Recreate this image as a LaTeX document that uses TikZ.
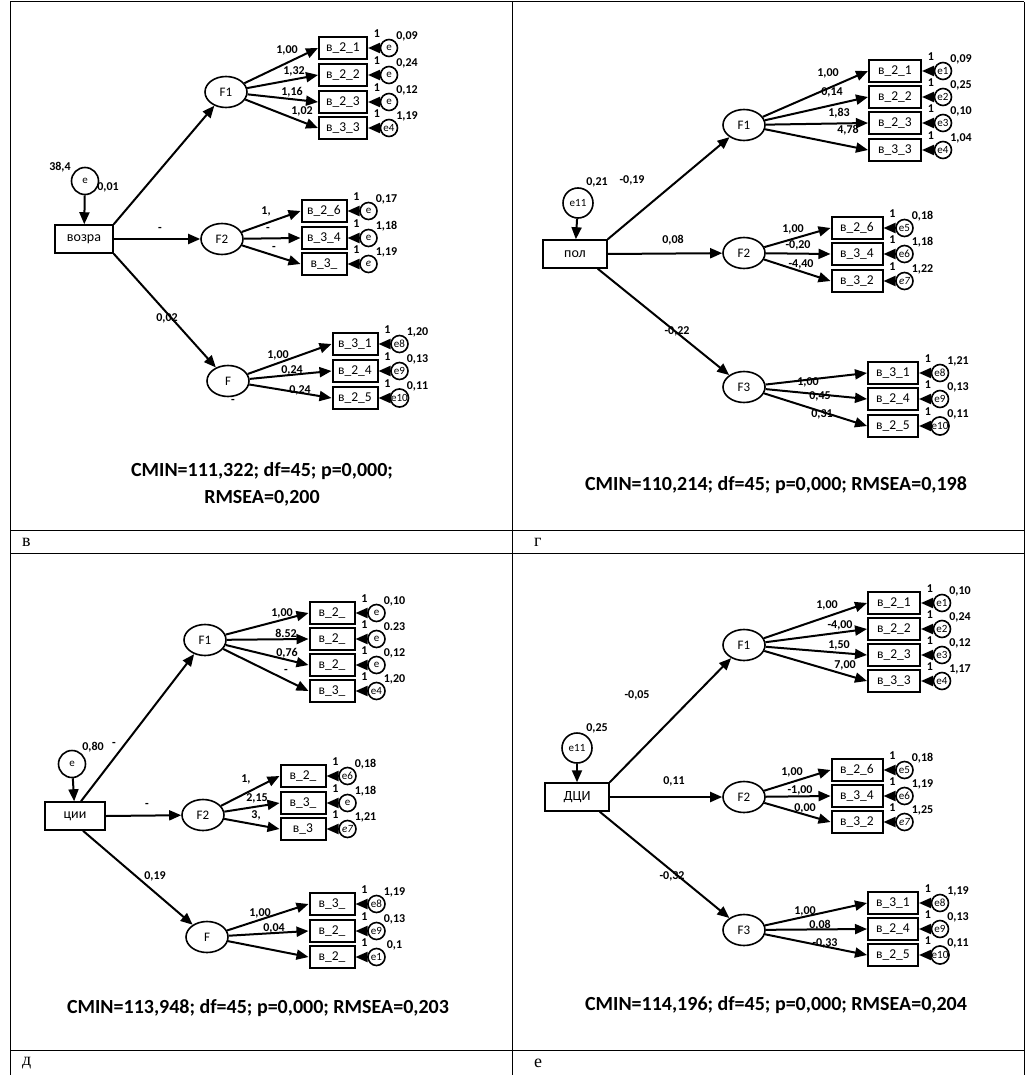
\documentclass[tikz,border=0pt]{standalone}
\usepackage{fontspec}
\setmainfont{Liberation Serif}
\newfontfamily\cb{Carlito}
\usetikzlibrary{shapes.geometric,arrows.meta,calc}

\tikzset{
  obs/.style={draw, line width=2pt, minimum height=22pt, inner sep=0pt, font=\cb\fontsize{13.5}{13.5}\selectfont},
  exo/.style={draw, line width=1.5pt, minimum height=28pt, inner sep=0pt, font=\cb\fontsize{14}{14}\selectfont},
  lat/.style={draw, ellipse, line width=1.6pt, minimum width=42pt, minimum height=31pt, inner sep=0pt, font=\cb\fontsize{13}{13}\selectfont},
  errc/.style={draw, circle, line width=1.6pt, minimum size=17pt, inner sep=0pt, font=\cb\fontsize{11}{11}\selectfont},
  arr/.style={line width=2pt, -{Triangle[length=12pt,width=10pt]}},
  lab/.style={font=\cb\bfseries\fontsize{12}{12}\selectfont, inner sep=0pt},
  fitline/.style={font=\cb\bfseries\fontsize{20}{27}\selectfont, align=center, inner sep=0pt},
  plabel/.style={font=\fontsize{18}{18}\selectfont, inner sep=0pt},
  frame/.style={line width=1pt}
}

% observed indicator with its residual circle, fixed path "1" and variance
\newcommand{\indbox}[7]{%
  \node[obs, minimum width=#4pt] (#1) at (#2,#3) {#5};
  \node[errc] (#1e) at ($(#1.east)+(21,0)$) {#6};
  \draw[arr] (#1e) -- (#1.east);
  \node[lab] at ($(#1.east)+(9,-14)$) {1};
  \node[lab] at ($(#1e)+(18,-12)$) {#7};
}

\begin{document}
\begin{tikzpicture}[x=1pt,y=-1pt]
\useasboundingbox (0,0) rectangle (1031,1075);
\fill[white] (0,0) rectangle (1031,1075);

% table frame
\draw[frame] (10,2) -- (1024,2);
\draw[frame] (10,530) -- (1024,530);
\draw[frame] (10,553) -- (1024,553);
\draw[frame] (10,1050) -- (1024,1050);
\draw[frame] (10,2) -- (10,1075);
\draw[frame] (512,2) -- (512,1075);
\draw[frame] (1024,2) -- (1024,1075);

\node[plabel, anchor=west] (lv) at (22,542) {в};
\node[plabel, anchor=west] (lg) at (534,542) {г};
\node[plabel, anchor=west] (ld) at (22,1063) {д};
\node[plabel, anchor=west] (le) at (534,1063) {е};

% ---------------- panel 1 ----------------
\node[errc, minimum size=27pt] (p1e) at (85,181) {e};
\node[exo, minimum width=58pt] (p1x) at (84,239) {возра};
\draw[arr] (p1e) -- (p1x);
\node[lab] at (60,167) {38,4};
\node[lat] (p1f1) at (226,92) {F1};
\node[lat] (p1f2) at (222,239) {F2};
\node[lat] (p1f3) at (228,381) {F};
\draw[arr] (p1x.north east) -- (p1f1);
\draw[arr] (p1x.east) -- (p1f2);
\draw[arr] (p1x.south east) -- (p1f3);
\node[lab] at (108,187) {0,01};
\node[lab] at (160,229) {-};
\node[lab] at (167,318) {0,02};
\node[lab] at (233,401) {-};

\indbox{p1a}{343}{48}{48}{в\_2\_1}{e}{0,09}
\indbox{p1b}{343}{75}{48}{в\_2\_2}{e}{0,24}
\indbox{p1c}{343}{102}{48}{в\_2\_3}{e}{0,12}
\indbox{p1d}{343}{128}{48}{в\_3\_3}{e4}{1,19}
\foreach \t in {p1a,p1b,p1c,p1d} \draw[arr] (p1f1) -- (\t.west);
\node[lab] at (287,50) {1,00};
\node[lab] at (294,71) {1,32};
\node[lab] at (292,92) {1,16};
\node[lab] at (302,111) {1,02};

\indbox{p1g}{324}{211}{45}{в\_2\_6}{e}{0,17}
\indbox{p1h}{324}{238}{45}{в\_3\_4}{e}{1,18}
\indbox{p1i}{324}{264}{45}{в\_3\_}{\itshape e}{1,19}
\foreach \t in {p1g,p1h,p1i} \draw[arr] (p1f2) -- (\t.west);
\node[lab] at (266,211) {1,};
\node[lab] at (268,229) {-};
\node[lab] at (274,248) {-};

\indbox{p1k}{355}{344}{45}{в\_3\_1}{e8}{1,20}
\indbox{p1l}{355}{371}{45}{в\_2\_4}{e9}{0,13}
\indbox{p1m}{355}{398}{45}{в\_2\_5}{e10}{0,11}
\foreach \t in {p1k,p1l,p1m} \draw[arr] (p1f3) -- (\t.west);
\node[lab] at (278,355) {1,00};
\node[lab] at (292,370) {0,24};
\node[lab] at (300,390) {0,24};

\node[fitline] (p1fit) at (262,484) {CMIN=111,322; df=45; p=0,000;\\RMSEA=0,200};

% ---------------- panel 2 ----------------
\node[errc, minimum size=30pt] (p2e) at (578,203) {e11};
\node[exo, minimum width=64pt] (p2x) at (575,254) {пол};
\draw[arr] (p2e) -- (p2x);
\node[lab] at (597,182) {0,21};
\node[lat] (p2f1) at (744,125) {F1};
\node[lat] (p2f2) at (744,253) {F2};
\node[lat] (p2f3) at (744,387) {F3};
\draw[arr] (p2x.north east) -- (p2f1);
\draw[arr] (p2x.east) -- (p2f2);
\draw[arr] ($(p2x.south east)+(-10,0)$) -- (p2f3);
\node[lab] at (632,180) {-0,19};
\node[lab] at (673,240) {0,08};
\node[lab] at (677,331) {-0,22};

\indbox{p2a}{895}{71}{52}{в\_2\_1}{e1}{0,09}
\indbox{p2b}{895}{97}{52}{в\_2\_2}{e2}{0,25}
\indbox{p2c}{895}{123}{52}{в\_2\_3}{e3}{0,10}
\indbox{p2d}{895}{150}{52}{в\_3\_3}{e4}{1,04}
\foreach \t in {p2a,p2b,p2c,p2d} \draw[arr] (p2f1) -- (\t.west);
\node[lab] at (828,73) {1,00};
\node[lab] at (832,92) {0,14};
\node[lab] at (839,113) {1,83};
\node[lab] at (848,130) {4,78};

\indbox{p2g}{857}{228}{51}{в\_2\_6}{e5}{0,18}
\indbox{p2h}{857}{254}{51}{в\_3\_4}{e6}{1,18}
\indbox{p2i}{857}{281}{51}{в\_3\_2}{\itshape e7}{1,22}
\foreach \t in {p2g,p2h,p2i} \draw[arr] (p2f2) -- (\t.west);
\node[lab] at (793,229) {1,00};
\node[lab] at (798,245) {-0,20};
\node[lab] at (801,264) {-4,40};

\indbox{p2k}{893}{373}{50}{в\_3\_1}{e8}{1,21}
\indbox{p2l}{893}{399}{50}{в\_2\_4}{e9}{0,13}
\indbox{p2m}{893}{426}{50}{в\_2\_5}{e10}{0,11}
\foreach \t in {p2k,p2l,p2m} \draw[arr] (p2f3) -- (\t.west);
\node[lab] at (808,382) {1,00};
\node[lab] at (820,396) {0,45};
\node[lab] at (822,414) {0,31};

\node[fitline] (p2fit) at (776,485) {CMIN=110,214; df=45; p=0,000; RMSEA=0,198};

% ---------------- panel 3 ----------------
\node[errc, minimum size=27pt] (p3e) at (72,764) {e};
\node[exo, minimum width=60pt] (p3x) at (75,816) {ции};
\draw[arr] (p3e) -- (p3x);
\node[lab] at (93,747) {0,80};
\node[lab] at (114,744) {-};
\node[lat] (p3f1) at (205,640) {F1};
\node[lat] (p3f2) at (203,815) {F2};
\node[lat] (p3f3) at (207,937) {F};
\draw[arr] ($(p3x.north)+(6,0)$) -- (p3f1);
\draw[arr] (p3x.east) -- (p3f2);
\draw[arr] ($(p3x.south)+(8,0)$) -- (p3f3);
\node[lab] at (147,805) {-};
\node[lab] at (155,876) {0,19};

\indbox{p3a}{332}{613}{45}{в\_2\_}{e}{0,10}
\indbox{p3b}{332}{639}{45}{в\_2\_}{e}{0.23}
\indbox{p3c}{332}{665}{45}{в\_2\_}{e}{0,12}
\indbox{p3d}{332}{691}{45}{в\_3\_}{e4}{1,20}
\foreach \t in {p3a,p3b,p3c,p3d} \draw[arr] (p3f1) -- (\t.west);
\node[lab] at (282,613) {1,00};
\node[lab] at (286,633) {8.52};
\node[lab] at (287,653) {0,76};
\node[lab] at (286,671) {-};

\indbox{p3g}{303}{776}{45}{в\_2\_}{e6}{0,18}
\indbox{p3h}{303}{803}{45}{в\_3\_}{e}{1,18}
\indbox{p3i}{303}{829}{45}{в\_3}{\itshape e7}{1,21}
\foreach \t in {p3g,p3h,p3i} \draw[arr] (p3f2) -- (\t.west);
\node[lab] at (246,779) {1,};
\node[lab] at (257,798) {2,15};
\node[lab] at (256,815) {3,};

\indbox{p3k}{332}{904}{45}{в\_3\_}{e8}{1,19}
\indbox{p3l}{332}{931}{45}{в\_2\_}{e9}{0,13}
\indbox{p3m}{332}{957}{45}{в\_2\_}{e1}{0,1}
\foreach \t in {p3k,p3l,p3m} \draw[arr] (p3f3) -- (\t.west);
\node[lab] at (260,913) {1,00};
\node[lab] at (274,928) {0,04};

\node[fitline] (p3fit) at (258,1008) {CMIN=113,948; df=45; p=0,000; RMSEA=0,203};

% ---------------- panel 4 ----------------
\node[errc, minimum size=30pt] (p4e) at (577,748) {e11};
\node[exo, minimum width=64pt] (p4x) at (577,797) {ДЦИ};
\draw[arr] (p4e) -- (p4x);
\node[lab] at (597,728) {0,25};
\node[lat] (p4f1) at (744,645) {F1};
\node[lat] (p4f2) at (744,797) {F2};
\node[lat] (p4f3) at (744,930) {F3};
\draw[arr] (p4x.north east) -- (p4f1);
\draw[arr] (p4x.east) -- (p4f2);
\draw[arr] ($(p4x.south east)+(-10,0)$) -- (p4f3);
\node[lab] at (637,695) {-0,05};
\node[lab] at (674,781) {0,11};
\node[lab] at (672,876) {-0,32};

\indbox{p4a}{894}{603}{52}{в\_2\_1}{e1}{0,10}
\indbox{p4b}{894}{629}{52}{в\_2\_2}{e2}{0,24}
\indbox{p4c}{894}{655}{52}{в\_2\_3}{e3}{0,12}
\indbox{p4d}{894}{681}{52}{в\_3\_3}{e4}{1,17}
\foreach \t in {p4a,p4b,p4c,p4d} \draw[arr] (p4f1) -- (\t.west);
\node[lab] at (827,605) {1,00};
\node[lab] at (840,625) {-4,00};
\node[lab] at (839,645) {1,50};
\node[lab] at (845,665) {7,00};

\indbox{p4g}{857}{770}{51}{в\_2\_6}{e5}{0,18}
\indbox{p4h}{857}{796}{51}{в\_3\_4}{e6}{1,19}
\indbox{p4i}{857}{822}{51}{в\_3\_2}{\itshape e7}{1,25}
\foreach \t in {p4g,p4h,p4i} \draw[arr] (p4f2) -- (\t.west);
\node[lab] at (792,772) {1,00};
\node[lab] at (800,790) {-1,00};
\node[lab] at (805,808) {0,00};

\indbox{p4k}{893}{903}{50}{в\_3\_1}{e8}{1,19}
\indbox{p4l}{893}{929}{50}{в\_2\_4}{e9}{0,13}
\indbox{p4m}{893}{955}{50}{в\_2\_5}{e10}{0,11}
\foreach \t in {p4k,p4l,p4m} \draw[arr] (p4f3) -- (\t.west);
\node[lab] at (805,911) {1,00};
\node[lab] at (820,925) {0,08};
\node[lab] at (825,943) {-0,33};

\node[fitline] (p4fit) at (776,1005) {CMIN=114,196; df=45; p=0,000; RMSEA=0,204};
\end{tikzpicture}
\end{document}
